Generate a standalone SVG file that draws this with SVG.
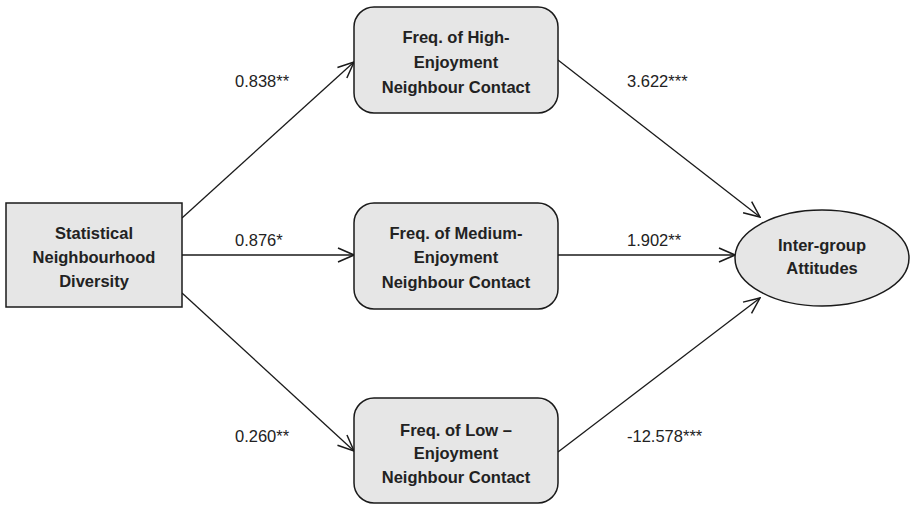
<svg xmlns="http://www.w3.org/2000/svg" width="911" height="505" viewBox="0 0 911 505">
<style>
.node{fill:#e6e6e6;stroke:#1a1a1a;stroke-width:1.5}
.t{font-family:"Liberation Sans",Arial,sans-serif;font-weight:bold;font-size:16.5px;fill:#222;text-anchor:middle}
.l{font-family:"Liberation Sans",Arial,sans-serif;font-size:16.5px;fill:#222;text-anchor:start}
.e{stroke:#1a1a1a;stroke-width:1.3;fill:none;marker-end:url(#arr)}
</style>
<defs>
<marker id="arr" viewBox="0 0 20 20" refX="19" refY="10" markerWidth="20" markerHeight="20" markerUnits="userSpaceOnUse" orient="auto">
<path d="M3,3 L19,10 L3,17" fill="none" stroke="#1a1a1a" stroke-width="1.5"/>
</marker>
</defs>
<rect width="911" height="505" fill="#fff"/>
<g id="connectors">
<line class="e" x1="182" y1="218" x2="354" y2="62"/>
<line class="e" x1="182" y1="255" x2="354" y2="255"/>
<line class="e" x1="182" y1="293" x2="354" y2="451"/>
<line class="e" x1="558" y1="60" x2="760" y2="217"/>
<line class="e" x1="558" y1="255" x2="735" y2="255"/>
<line class="e" x1="558" y1="452" x2="760" y2="298"/>
<text class="l" x="235" y="87">0.838**</text>
<text class="l" x="627" y="87">3.622***</text>
<text class="l" x="235" y="246">0.876*</text>
<text class="l" x="627" y="246">1.902**</text>
<text class="l" x="235" y="442">0.260**</text>
<text class="l" x="627" y="442">-12.578***</text>
</g>
<g id="n-diversity">
<rect class="node" x="6" y="203" width="176" height="104"/>
<text class="t" x="94" y="239">Statistical</text>
<text class="t" x="94" y="263">Neighbourhood</text>
<text class="t" x="94" y="287">Diversity</text>
</g>
<g id="n-high">
<rect class="node" x="354" y="7" width="204" height="106" rx="20"/>
<text class="t" x="456" y="43">Freq. of High-</text>
<text class="t" x="456" y="68">Enjoyment</text>
<text class="t" x="456" y="93">Neighbour Contact</text>
</g>
<g id="n-medium">
<rect class="node" x="354" y="203" width="204" height="106" rx="20"/>
<text class="t" x="456" y="239">Freq. of Medium-</text>
<text class="t" x="456" y="263">Enjoyment</text>
<text class="t" x="456" y="288">Neighbour Contact</text>
</g>
<g id="n-low">
<rect class="node" x="354" y="398" width="204" height="105" rx="20"/>
<text class="t" x="456" y="436">Freq. of Low –</text>
<text class="t" x="456" y="459">Enjoyment</text>
<text class="t" x="456" y="483">Neighbour Contact</text>
</g>
<g id="n-attitudes">
<ellipse class="node" cx="822" cy="258" rx="87" ry="48"/>
<text class="t" x="822" y="251">Inter-group</text>
<text class="t" x="822" y="274">Attitudes</text>
</g>
</svg>
